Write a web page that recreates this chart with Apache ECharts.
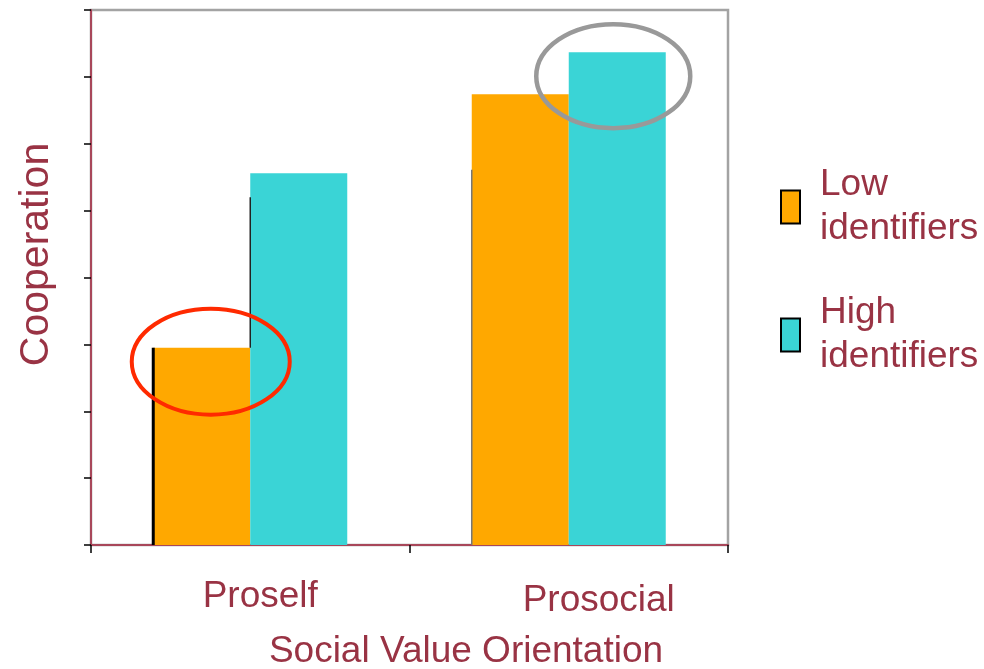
<!DOCTYPE html>
<html>
<head>
<meta charset="utf-8">
<title>Cooperation by Social Value Orientation</title>
<script src="https://cdn.jsdelivr.net/npm/echarts@6/dist/echarts.min.js"></script>
<style>
  html, body { margin: 0; padding: 0; background: #ffffff; }
  #chart { width: 984px; height: 669px; }
</style>
</head>
<body>
<div id="chart"></div>
<script>
// Categories and group values (cooperation, arbitrary units on a 0–8 scale)
const categories = ['Proself', 'Prosocial'];
const seriesNames = ['Low identifiers', 'High identifiers'];
const lowValues = [2.95, 6.74];
const highValues = [5.56, 7.37];

// Leftover bar edges: [category index, bar slot (0 low / 1 high), from value, to value]
const edgeSegments = [
  [0, 0, 0, 2.95],
  [0, 1, 2.95, 5.20],
  [1, 0, 0, 5.61]
];

// Highlighted bars: [category index, bar slot]
const highlights = [[0, 0], [1, 1]];

const TEXT = '#993344';
const ORANGE = '#ffa800';
const TEAL = '#3ad4d6';
const AXIS_RED = '#a8475a';
const BAR_W = 97;
const FONT = '"Liberation Sans", Arial, sans-serif';

const chart = echarts.init(document.getElementById('chart'), null, { renderer: 'canvas' });

const edgeStyles = [
  { stroke: '#000000', lineWidth: 3 },
  { stroke: '#222222', lineWidth: 1.5 },
  { stroke: '#777777', lineWidth: 1.5 }
];

chart.setOption({
  animation: false,
  backgroundColor: '#ffffff',
  grid: {
    left: 91, right: 256, top: 10, bottom: 124,
    outerBoundsMode: 'none',
    containLabel: false,
    show: true, borderColor: '#a3a3a3', borderWidth: 2.5, backgroundColor: 'transparent'
  },
  legend: {
    orient: 'vertical',
    left: 775,
    top: 158,
    itemGap: 40,
    itemWidth: 19,
    itemHeight: 33,
    icon: 'rect',
    itemStyle: { borderColor: '#000000', borderWidth: 2 },
    data: seriesNames,
    formatter: name => name.replace(' ', '\n'),
    textStyle: { color: TEXT, fontSize: 37, fontFamily: FONT, lineHeight: 44, padding: [0, 0, 0, 15] }
  },
  xAxis: {
    type: 'category',
    data: [
      { value: categories[0], textStyle: { padding: [0, 0, 0, 20] } },
      { value: categories[1], textStyle: { padding: [4, 0, 0, 60] } }
    ],
    boundaryGap: true,
    axisLine: { lineStyle: { color: AXIS_RED, width: 2 } },
    axisTick: { show: true, alignWithLabel: false, interval: 0, length: 8, lineStyle: { color: '#000000', width: 1.5 } },
    axisLabel: { color: TEXT, fontSize: 37, fontFamily: FONT, margin: 33 },
    name: 'Social Value Orientation',
    nameLocation: 'middle',
    nameGap: 88,
    nameTextStyle: { color: TEXT, fontSize: 37, fontFamily: FONT, padding: [0, 0, 0, 113] }
  },
  yAxis: {
    type: 'value',
    min: 0, max: 8, interval: 1,
    axisLine: { show: true, lineStyle: { color: AXIS_RED, width: 2 } },
    axisTick: { show: true, length: 7, lineStyle: { color: '#000000', width: 1.5 } },
    axisLabel: { show: false },
    splitLine: { show: false },
    name: 'Cooperation',
    nameLocation: 'middle',
    nameGap: 34,
    nameRotate: 90,
    nameTextStyle: { color: TEXT, fontSize: 41, fontFamily: FONT, padding: [0, 0, 0, 46] }
  },
  series: [
    {
      name: seriesNames[0], type: 'bar', data: lowValues,
      barWidth: BAR_W, barGap: '0%',
      itemStyle: { color: ORANGE }
    },
    {
      name: seriesNames[1], type: 'bar', data: highValues,
      barWidth: BAR_W, barGap: '0%',
      itemStyle: { color: TEAL }
    },
    {
      name: 'edges', type: 'custom', data: edgeSegments, z: 3,
      renderItem: function (params, api) {
        const cat = api.value(0), slot = api.value(1);
        const base = api.coord([cat, api.value(2)]);
        const top = api.coord([cat, api.value(3)]);
        const x = base[0] - BAR_W + slot * BAR_W;
        const st = edgeStyles[params.dataIndex];
        return {
          type: 'line',
          shape: { x1: x, y1: base[1], x2: x, y2: top[1] },
          style: { stroke: st.stroke, lineWidth: st.lineWidth }
        };
      }
    }
  ]
});

// Outline ellipses drawn around the highlighted bar tops
const ellipseStyles = [
  { dx: 9, dy: 14, rx: 79, ry: 53, stroke: '#ff2a00', lineWidth: 4 },
  { dx: -4, dy: 24, rx: 77, ry: 52, stroke: '#999999', lineWidth: 4.5 }
];
const graphics = highlights.map(function (h, i) {
  const cat = h[0], slot = h[1];
  const value = (slot === 0 ? lowValues : highValues)[cat];
  const p = chart.convertToPixel({ gridIndex: 0 }, [cat, value]);
  const cx = p[0] - BAR_W / 2 + slot * BAR_W;
  const s = ellipseStyles[i];
  return {
    type: 'ellipse', z: 100,
    shape: { cx: cx + s.dx, cy: p[1] + s.dy, rx: s.rx, ry: s.ry },
    style: { fill: 'none', stroke: s.stroke, lineWidth: s.lineWidth }
  };
});
chart.setOption({ graphic: graphics });
</script>
</body>
</html>
